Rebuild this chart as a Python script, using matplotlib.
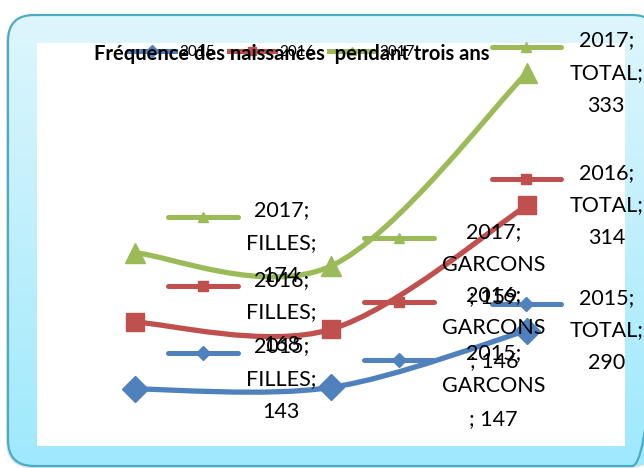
import numpy as np
import matplotlib
matplotlib.use("Agg")
import matplotlib.pyplot as plt
from matplotlib.path import Path
from matplotlib.patches import PathPatch, FancyBboxPatch
from matplotlib.lines import Line2D
from matplotlib.offsetbox import DrawingArea, TextArea, HPacker, AnnotationBbox

plt.rcParams['font.family'] = ['Lato', 'DejaVu Sans']

categories = ["FILLES", "GARCONS", "TOTAL"]
years = ["2015", "2016", "2017"]
births_2015 = [143, 147, 290]
births_2016 = [168, 146, 314]
births_2017 = [174, 159, 333]

colors = ["#4f81bd", "#c0504d", "#9bbb59"]
markers = ["D", "s", "^"]
msizes = [13, 13, 15]

W, H = 644, 468
fig = plt.figure(figsize=(W / 100, H / 100), dpi=100)

# chart area: rounded box with light cyan gradient
bg = fig.add_axes([0, 0, 1, 1])
bg.set_xlim(0, W)
bg.set_ylim(H, 0)
bg.axis('off')
frame = FancyBboxPatch((8, 15), 650, 451, boxstyle="round,pad=0,rounding_size=26",
                       facecolor='none', edgecolor='#4bacc6', lw=1.6, zorder=3)
shadow = FancyBboxPatch((6, 17), 650, 451, boxstyle="round,pad=0,rounding_size=26",
                        facecolor='#cfcfcf', edgecolor='none', zorder=0, alpha=0.6)
bg.add_patch(shadow)
grad = np.linspace(0, 1, 256).reshape(-1, 1)
top = np.array([222, 246, 252]) / 255
bot = np.array([158, 233, 253]) / 255
img = top + (bot - top) * grad[..., None]
im = bg.imshow(img, extent=(8, 660, 467, 15), aspect='auto', zorder=1)
bg.add_patch(frame)
im.set_clip_path(frame)

# plot area
ax = fig.add_axes([37 / W, (H - 446) / H, 588 / W, 403 / H])
ax.set_facecolor('white')
for s in ax.spines.values():
    s.set_visible(False)
ax.set_xticks([])
ax.set_yticks([])
ax.set_xlim(-0.5, 2.5)
ax.set_ylim(0, 1012)

series = np.array([births_2015, births_2016, births_2017])
stacked = np.cumsum(series, axis=0)
x = np.arange(len(categories))


def smooth_path(xs, ys):
    # Excel style smoothed line as cubic bezier segments
    pts = np.column_stack([xs, ys]).astype(float)
    n = len(pts)
    verts = [pts[0]]
    codes = [Path.MOVETO]
    for i in range(n - 1):
        p0 = pts[i - 1] if i > 0 else pts[i]
        p3 = pts[i + 2] if i + 2 < n else pts[i + 1]
        c1 = pts[i] + (pts[i + 1] - p0) / 6
        c2 = pts[i + 1] - (p3 - pts[i]) / 6
        verts += [c1, c2, pts[i + 1]]
        codes += [Path.CURVE4] * 3
    return Path(verts, codes)


for k in range(len(years)):
    ax.add_patch(PathPatch(smooth_path(x, stacked[k]), facecolor='none',
                           edgecolor=colors[k], lw=3.8, capstyle='round', zorder=2))
    ax.plot(x, stacked[k], ls='none', marker=markers[k], ms=msizes[k],
            color=colors[k], zorder=3)

# data labels with legend key
for k in range(len(years)):
    for i, cat in enumerate(categories):
        if cat == "GARCONS":
            txt = f"{years[k]};\n{cat}\n; {series[k][i]}"
        else:
            txt = f"{years[k]};\n{cat};\n{series[k][i]}"
        da = DrawingArea(50, 24, 0, 0)
        da.add_artist(Line2D([0, 50], [12, 12], color=colors[k], lw=3.6,
                             solid_capstyle='round'))
        da.add_artist(Line2D([25], [12], marker=markers[k], ms=7, color=colors[k]))
        ta = TextArea(txt, textprops=dict(fontsize=15.5, ha='center',
                                          multialignment='center', linespacing=1.8))
        box = HPacker(children=[da, ta], align="top", pad=0, sep=6)
        if i == len(categories) - 1:
            ab = AnnotationBbox(box, (x[i], stacked[k][i]), xybox=(0.999, stacked[k][i]),
                                boxcoords=("figure fraction", "data"),
                                box_alignment=(1, 0.5), frameon=False, pad=0,
                                annotation_clip=False)
        else:
            ab = AnnotationBbox(box, (x[i], stacked[k][i]),
                                xybox=(24, 7 if i == 0 else 1),
                                boxcoords="offset points", box_alignment=(0, 0.5),
                                frameon=False, pad=0, annotation_clip=False)
        ab.set_zorder(5)
        ax.add_artist(ab)

handles = [Line2D([], [], color=colors[k], lw=3.6, marker=markers[k], ms=6)
           for k in range(len(years))]
leg = fig.legend(handles, years, loc='center', bbox_to_anchor=(272 / W, 1 - 52 / H),
                 ncol=3, frameon=False, fontsize=11, handlelength=3.0,
                 columnspacing=0.9, handletextpad=0.3)
leg.set_zorder(4)

fig.text(292 / W, 1 - 54 / H, "Fréquence des naissances  pendant trois ans",
         ha='center', va='center', fontsize=14.5, fontweight='bold', zorder=6)

fig.savefig("out.png", dpi=100)
